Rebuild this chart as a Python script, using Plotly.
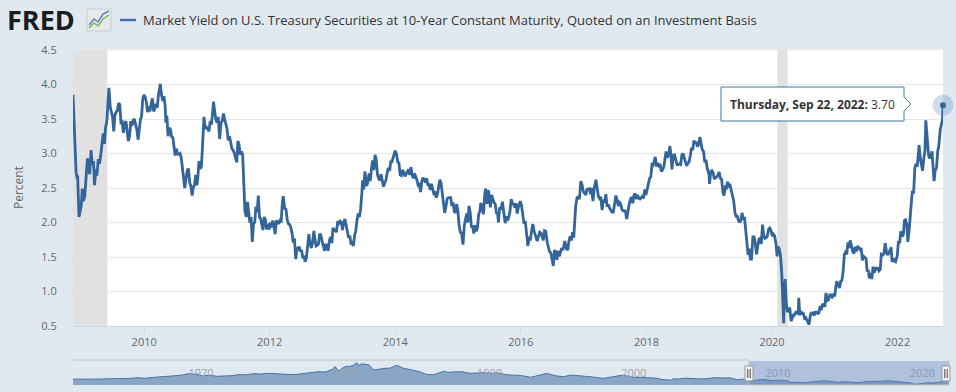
import plotly.graph_objects as go

# ---------------- data ----------------
y2008 = [("11-13",3.85),("11-18",3.55),("11-21",3.21),("11-26",3.00),("12-01",2.73),("12-05",2.67),
         ("12-10",2.68),("12-18",2.08),("12-24",2.17),("12-31",2.25)]
y2009 = [("01-06",2.49),("01-12",2.31),("01-20",2.37),("01-28",2.67),("02-05",2.93),("02-10",2.83),("02-18",2.70),
         ("02-26",3.05),("03-05",2.84),("03-12",2.89),("03-18",2.54),("03-26",2.77),("04-01",2.68),("04-09",2.92),
         ("04-16",2.85),("04-24",2.99),("05-01",3.16),("05-08",3.29),("05-15",3.14),("05-21",3.37),("05-29",3.47),
         ("06-04",3.71),("06-10",3.95),("06-18",3.67),("06-25",3.60),("07-01",3.53),("07-08",3.32),("07-15",3.56),
         ("07-22",3.60),("07-29",3.62),("08-05",3.73),("08-12",3.71),("08-19",3.45),("08-26",3.46),("09-02",3.30),
         ("09-10",3.43),("09-17",3.47),("09-25",3.33),("10-01",3.18),("10-08",3.25),("10-15",3.47),("10-22",3.40),
         ("10-29",3.48),("11-05",3.50),("11-12",3.44),("11-19",3.35),("11-27",3.20),("12-03",3.39),("12-10",3.49),
         ("12-17",3.54),("12-24",3.80),("12-31",3.85)]
y2010 = [("01-07",3.82),("01-14",3.74),("01-21",3.60),("01-28",3.68),("02-04",3.61),("02-11",3.73),("02-18",3.80),
         ("02-25",3.61),("03-04",3.65),("03-11",3.72),("03-18",3.66),("03-25",3.85),("04-05",4.01),("04-12",3.85),
         ("04-19",3.76),("04-26",3.83),("05-03",3.69),("05-07",3.45),("05-13",3.55),("05-20",3.25),("05-27",3.37),
         ("06-03",3.35),("06-10",3.24),("06-17",3.23),("06-24",3.12),("06-30",2.97),("07-08",3.07),("07-15",2.99),
         ("07-22",2.99),("07-29",3.00),("08-05",2.93),("08-12",2.74),("08-19",2.62),("08-25",2.50),("09-01",2.63),
         ("09-09",2.76),("09-16",2.78),("09-23",2.57),("09-30",2.53),("10-07",2.39),("10-14",2.51),("10-21",2.54),
         ("10-28",2.69),("11-04",2.54),("11-10",2.68),("11-16",2.89),("11-23",2.78),("11-30",2.81),("12-07",3.14),
         ("12-15",3.53),("12-22",3.36),("12-30",3.38)]
y2011 = [("01-06",3.36),("01-13",3.32),("01-20",3.47),("01-27",3.42),("02-03",3.58),("02-08",3.75),("02-15",3.62),
         ("02-22",3.49),("03-01",3.45),("03-08",3.53),("03-16",3.21),("03-24",3.44),("03-31",3.47),("04-07",3.58),
         ("04-14",3.50),("04-21",3.40),("04-28",3.36),("05-05",3.19),("05-12",3.25),("05-19",3.17),("05-26",3.07),
         ("06-02",3.05),("06-09",3.01),("06-16",2.94),("06-24",2.87),("06-30",3.18),("07-07",3.13),("07-14",2.98),
         ("07-21",3.03),("07-28",2.98),("08-04",2.47),("08-10",2.17),("08-18",2.08),("08-25",2.30),("09-01",2.15),
         ("09-08",2.00),("09-15",2.08),("09-22",1.72),("09-29",1.98),("10-06",2.00),("10-13",2.23),("10-20",2.15),
         ("10-27",2.39),("11-03",2.08),("11-10",2.05),("11-17",1.98),("11-23",1.89),("11-30",2.08),("12-07",2.04),
         ("12-14",1.90),("12-21",1.98),("12-29",1.90)]
y2012 = [("01-05",2.00),("01-12",1.93),("01-19",2.03),("01-26",1.95),("02-02",1.83),("02-09",2.03),("02-16",2.00),
         ("02-23",1.98),("03-01",2.03),("03-08",2.02),("03-15",2.29),("03-20",2.38),("03-28",2.21),("04-05",2.19),
         ("04-12",2.04),("04-19",1.98),("04-26",1.97),("05-03",1.93),("05-10",1.85),("05-17",1.71),("05-24",1.77),
         ("06-01",1.47),("06-07",1.64),("06-14",1.62),("06-21",1.65),("06-28",1.58),("07-05",1.60),("07-12",1.48),
         ("07-19",1.52),("07-25",1.43),("08-02",1.49),("08-09",1.69),("08-16",1.83),("08-23",1.69),("08-30",1.63),
         ("09-06",1.70),("09-14",1.88),("09-20",1.77),("09-27",1.66),("10-04",1.67),("10-11",1.69),("10-18",1.84),
         ("10-25",1.81),("11-01",1.73),("11-08",1.64),("11-15",1.59),("11-23",1.69),("11-30",1.62),("12-06",1.59),
         ("12-13",1.73),("12-20",1.79),("12-28",1.70)]
y2013 = [("01-03",1.92),("01-10",1.90),("01-17",1.88),("01-24",1.86),("01-31",2.02),("02-07",1.99),("02-14",2.02),
         ("02-21",2.00),("02-28",1.89),("03-07",2.01),("03-14",2.05),("03-21",1.95),("03-28",1.87),("04-04",1.78),
         ("04-11",1.81),("04-18",1.70),("04-25",1.71),("05-02",1.66),("05-09",1.81),("05-16",1.88),("05-23",2.03),
         ("05-30",2.13),("06-06",2.08),("06-13",2.19),("06-20",2.42),("06-25",2.61),("07-02",2.48),("07-08",2.74),
         ("07-18",2.53),("07-25",2.58),("08-01",2.71),("08-08",2.60),("08-15",2.77),("08-22",2.90),("08-29",2.76),
         ("09-05",2.98),("09-12",2.91),("09-19",2.70),("09-26",2.64),("10-03",2.61),("10-10",2.70),("10-17",2.61),
         ("10-24",2.52),("10-31",2.57),("11-07",2.61),("11-14",2.71),("11-21",2.79),("11-29",2.75),("12-05",2.88),
         ("12-12",2.88),("12-19",2.94),("12-26",3.01),("12-31",3.04)]
y2014 = [("01-08",2.99),("01-15",2.88),("01-22",2.86),("01-29",2.69),("02-05",2.68),("02-12",2.76),("02-19",2.73),
         ("02-26",2.67),("03-05",2.70),("03-12",2.73),("03-19",2.77),("03-26",2.69),("04-02",2.80),("04-09",2.69),
         ("04-16",2.64),("04-23",2.71),("04-30",2.67),("05-07",2.61),("05-14",2.54),("05-21",2.55),("05-28",2.44),
         ("06-04",2.60),("06-11",2.65),("06-18",2.61),("06-25",2.58),("07-02",2.64),("07-09",2.55),("07-16",2.55),
         ("07-23",2.47),("07-30",2.56),("08-06",2.47),("08-13",2.42),("08-20",2.43),("08-27",2.36),("09-03",2.41),
         ("09-10",2.54),("09-17",2.62),("09-24",2.57),("10-01",2.42),("10-08",2.34),("10-15",2.14),("10-22",2.22),
         ("10-29",2.34),("11-05",2.36),("11-12",2.36),("11-19",2.36),("11-26",2.24),("12-03",2.29),("12-10",2.16),
         ("12-17",2.14),("12-24",2.27),("12-31",2.17)]
y2015 = [("01-07",1.96),("01-14",1.86),("01-21",1.85),("01-30",1.68),("02-06",1.95),("02-13",2.02),("02-20",2.13),
         ("02-27",2.00),("03-06",2.24),("03-13",2.13),("03-20",1.93),("03-27",1.95),("04-02",1.84),("04-10",1.96),
         ("04-17",1.87),("04-24",1.93),("05-01",2.12),("05-08",2.16),("05-13",2.28),("05-20",2.25),("05-29",2.12),
         ("06-05",2.40),("06-10",2.49),("06-19",2.27),("06-26",2.47),("07-02",2.38),("07-08",2.22),("07-15",2.40),
         ("07-22",2.34),("07-29",2.29),("08-05",2.27),("08-12",2.14),("08-19",2.13),("08-24",2.00),("08-31",2.22),
         ("09-08",2.19),("09-16",2.30),("09-23",2.15),("09-30",2.06),("10-02",1.99),("10-09",2.09),("10-16",2.03),
         ("10-23",2.08),("10-30",2.16),("11-06",2.34),("11-13",2.28),("11-20",2.26),("11-27",2.22),("12-04",2.28),
         ("12-11",2.13),("12-18",2.22),("12-29",2.31)]
y2016 = [("01-05",2.25),("01-12",2.10),("01-20",1.98),("01-27",2.02),("02-03",1.88),("02-11",1.66),("02-18",1.77),
         ("02-26",1.76),("03-04",1.88),("03-11",1.98),("03-18",1.88),("03-28",1.80),("04-05",1.73),("04-12",1.79),
         ("04-20",1.86),("04-27",1.85),("05-04",1.79),("05-11",1.74),("05-18",1.88),("05-25",1.87),("06-03",1.71),
         ("06-10",1.64),("06-16",1.58),("06-24",1.56),("07-01",1.46),("07-08",1.37),("07-15",1.60),("07-22",1.57),
         ("07-29",1.46),("08-05",1.59),("08-12",1.51),("08-19",1.58),("08-26",1.63),("09-02",1.60),("09-09",1.67),
         ("09-13",1.73),("09-23",1.62),("09-30",1.60),("10-07",1.73),("10-14",1.80),("10-21",1.74),("10-28",1.86),
         ("11-04",1.78),("11-09",2.07),("11-15",2.23),("11-23",2.36),("11-30",2.37),("12-07",2.34),("12-15",2.60),
         ("12-22",2.55),("12-30",2.45)]
y2017 = [("01-06",2.42),("01-13",2.40),("01-20",2.48),("01-27",2.49),("02-03",2.49),("02-10",2.41),("02-15",2.50),
         ("02-24",2.31),("03-03",2.49),("03-13",2.62),("03-20",2.47),("03-27",2.38),("04-03",2.35),("04-10",2.37),
         ("04-18",2.18),("04-25",2.33),("05-02",2.29),("05-10",2.41),("05-17",2.23),("05-24",2.26),("05-31",2.21),
         ("06-07",2.18),("06-14",2.15),("06-22",2.15),("06-30",2.31),("07-07",2.39),("07-14",2.33),("07-21",2.24),
         ("07-28",2.29),("08-04",2.27),("08-11",2.19),("08-18",2.17),("08-25",2.17),("09-01",2.16),("09-08",2.05),
         ("09-15",2.20),("09-22",2.26),("09-29",2.33),("10-06",2.37),("10-13",2.28),("10-20",2.39),("10-27",2.42),
         ("11-03",2.34),("11-10",2.40),("11-17",2.35),("11-24",2.34),("12-01",2.37),("12-08",2.38),("12-15",2.35),
         ("12-22",2.48),("12-29",2.40)]
y2018 = [("01-05",2.47),("01-12",2.55),("01-19",2.64),("01-26",2.66),("02-02",2.84),("02-09",2.83),("02-15",2.91),
         ("02-21",2.95),("03-01",2.81),("03-08",2.86),("03-15",2.82),("03-22",2.83),("03-29",2.74),("04-06",2.77),
         ("04-13",2.82),("04-20",2.96),("04-25",3.03),("05-03",2.94),("05-10",2.97),("05-17",3.11),("05-24",2.98),
         ("05-29",2.77),("06-06",2.97),("06-13",2.98),("06-21",2.90),("06-28",2.84),("07-05",2.84),("07-12",2.85),
         ("07-19",2.84),("07-26",2.98),("08-01",3.00),("08-09",2.93),("08-16",2.87),("08-23",2.82),("08-30",2.86),
         ("09-06",2.88),("09-13",2.97),("09-20",3.08),("09-27",3.05),("10-04",3.19),("10-11",3.14),("10-18",3.17),
         ("10-25",3.10),("11-01",3.14),("11-08",3.24),("11-15",3.11),("11-21",3.06),("11-29",3.03),("12-06",2.87),
         ("12-13",2.91),("12-20",2.79),("12-31",2.69)]
y2019 = [("01-03",2.56),("01-10",2.74),("01-17",2.75),("01-24",2.72),("01-31",2.63),("02-07",2.65),("02-14",2.66),
         ("02-21",2.69),("02-28",2.73),("03-07",2.64),("03-14",2.63),("03-22",2.44),("03-28",2.39),("04-04",2.51),
         ("04-11",2.50),("04-17",2.59),("04-25",2.53),("05-02",2.54),("05-09",2.45),("05-16",2.40),("05-23",2.32),
         ("05-31",2.14),("06-07",2.09),("06-14",2.09),("06-20",2.03),("06-28",2.00),("07-05",2.04),("07-11",2.14),
         ("07-18",2.04),("07-25",2.08),("08-01",1.90),("08-07",1.71),("08-15",1.53),("08-22",1.62),("08-28",1.47),
         ("09-04",1.47),("09-12",1.79),("09-19",1.79),("09-26",1.70),("10-03",1.54),("10-10",1.67),("10-17",1.76),
         ("10-24",1.77),("10-31",1.69),("11-07",1.97),("11-14",1.82),("11-21",1.77),("11-29",1.78),("12-05",1.80),
         ("12-12",1.90),("12-19",1.92),("12-27",1.88)]
y2020 = [("01-03",1.80),("01-10",1.83),("01-16",1.81),("01-24",1.70),("01-31",1.51),("02-06",1.65),("02-13",1.61),
         ("02-20",1.52),("02-27",1.26),("03-03",1.02),("03-09",0.54),("03-13",0.98),("03-18",1.18),("03-24",0.84),
         ("03-31",0.70),("04-07",0.75),("04-14",0.75),("04-21",0.57),("04-28",0.61),("05-05",0.66),("05-12",0.66),
         ("05-19",0.70),("05-26",0.69),("06-02",0.68),("06-05",0.91),("06-11",0.66),("06-18",0.71),("06-25",0.68),
         ("07-02",0.68),("07-09",0.61),("07-16",0.62),("07-23",0.59),("07-30",0.55),("08-04",0.52),("08-12",0.67),
         ("08-19",0.69),("08-26",0.69),("09-02",0.65),("09-09",0.70),("09-16",0.70),("09-23",0.68),("09-30",0.69),
         ("10-07",0.79),("10-14",0.73),("10-21",0.82),("10-28",0.79),("11-04",0.78),("11-10",0.98),("11-18",0.87),
         ("11-25",0.88),("12-02",0.95),("12-09",0.95),("12-16",0.92),("12-23",0.95),("12-31",0.93)]
y2021 = [("01-07",1.08),("01-12",1.15),("01-20",1.10),("01-28",1.05),("02-04",1.15),("02-11",1.16),("02-18",1.29),
         ("02-25",1.54),("03-04",1.57),("03-11",1.54),("03-18",1.71),("03-25",1.63),("03-31",1.74),("04-08",1.62),
         ("04-15",1.58),("04-22",1.55),("04-29",1.65),("05-06",1.58),("05-13",1.66),("05-20",1.63),("05-27",1.61),
         ("06-03",1.63),("06-10",1.45),("06-17",1.51),("06-24",1.49),("07-01",1.48),("07-08",1.29),("07-15",1.31),
         ("07-20",1.19),("07-29",1.27),("08-04",1.18),("08-11",1.36),("08-18",1.27),("08-25",1.35),("09-01",1.31),
         ("09-08",1.35),("09-15",1.30),("09-22",1.32),("09-28",1.54),("10-06",1.53),("10-13",1.55),("10-21",1.70),
         ("10-28",1.58),("11-04",1.53),("11-10",1.55),("11-18",1.59),("11-24",1.64),("11-30",1.43),("12-07",1.48),
         ("12-14",1.44),("12-20",1.43),("12-30",1.52)]
y2022 = [("01-06",1.73),("01-13",1.70),("01-19",1.87),("01-27",1.80),("02-03",1.82),("02-10",2.03),("02-16",2.04),
         ("02-24",1.96),("03-01",1.72),("03-08",1.86),("03-16",2.19),("03-23",2.32),("03-28",2.46),("04-04",2.42),
         ("04-11",2.79),("04-18",2.85),("04-25",2.81),("05-02",2.99),("05-06",3.12),("05-13",2.93),("05-19",2.84),
         ("05-26",2.75),("06-02",2.92),("06-09",3.04),("06-14",3.48),("06-22",3.16),("06-30",2.98),("07-06",2.93),
         ("07-13",2.96),("07-20",3.03),("07-27",2.78),("08-01",2.60),("08-08",2.76),("08-15",2.79),("08-22",3.03),
         ("08-29",3.12),("09-06",3.35),("09-13",3.42),("09-19",3.49),("09-22",3.70)]

nav_dates = ["1962-01-02","1962-07-01","1963-01-01","1963-07-01","1964-01-01","1964-07-01","1965-01-01","1965-07-01",
             "1966-01-01","1966-07-01","1967-01-01","1967-07-01","1968-01-01","1968-07-01","1969-01-01","1969-07-01",
             "1970-01-01","1970-07-01","1971-01-01","1971-07-01","1972-01-01","1972-07-01","1973-01-01","1973-07-01",
             "1974-01-01","1974-07-01","1975-01-01","1975-07-01","1976-01-01","1976-07-01","1977-01-01","1977-07-01",
             "1978-01-01","1978-07-01","1979-01-01","1979-07-01","1980-01-01","1980-03-01","1980-06-01","1980-09-01",
             "1980-12-01","1981-03-01","1981-06-01","1981-09-01","1981-11-01","1982-01-01","1982-07-01","1982-11-01",
             "1983-01-01","1983-07-01","1984-01-01","1984-06-01","1984-12-01","1985-07-01","1986-01-01","1986-07-01",
             "1987-01-01","1987-10-01","1988-01-01","1988-07-01","1989-01-01","1989-07-01","1990-01-01","1990-07-01",
             "1991-01-01","1991-07-01","1992-01-01","1992-07-01","1993-01-01","1993-10-01","1994-07-01","1994-11-01",
             "1995-07-01","1996-01-01","1996-07-01","1997-01-01","1997-07-01","1998-01-01","1998-10-01","1999-07-01",
             "2000-01-01","2000-07-01","2001-01-01","2001-07-01","2002-01-01","2002-07-01","2002-10-01","2003-06-01",
             "2003-09-01","2004-01-01","2004-06-01","2005-01-01","2005-07-01","2006-01-01","2006-07-01","2007-01-01",
             "2007-07-01","2008-01-01","2008-07-01","2008-12-01","2009-07-01","2010-01-01","2010-07-01","2011-01-01",
             "2011-07-01","2011-10-01","2012-07-01","2013-01-01","2013-07-01","2014-01-01","2014-07-01","2015-01-01",
             "2015-07-01","2016-01-01","2016-07-01","2017-01-01","2017-07-01","2018-01-01","2018-07-01","2019-01-01",
             "2019-07-01","2019-09-01","2020-01-01","2020-04-01","2020-07-01","2021-01-01","2021-04-01","2021-07-01",
             "2022-01-01","2022-06-01","2022-09-22"]
nav_values = [4.08,3.99,3.83,4.02,4.17,4.20,4.19,4.20,4.61,5.02,4.58,5.16,5.53,5.50,6.04,6.72,
              7.79,7.46,6.24,6.73,5.95,6.11,6.46,7.13,6.99,7.81,7.50,8.06,7.74,7.83,7.21,7.33,
              7.96,8.64,9.10,8.95,10.80,12.75,9.78,11.50,12.84,12.70,13.47,15.32,13.39,14.59,13.95,10.55,
              10.46,11.38,11.67,13.56,11.50,10.31,9.19,7.30,7.08,9.52,8.67,9.06,9.09,8.02,8.21,8.47,
              8.09,8.27,7.03,6.84,6.60,5.33,7.30,7.96,6.28,5.65,6.87,6.58,6.12,5.54,4.53,5.79,
              6.66,6.05,5.16,5.24,5.04,4.65,3.90,3.33,4.27,4.15,4.73,4.22,4.18,4.42,5.09,4.76,
              5.00,3.74,4.01,2.42,3.56,3.73,3.01,3.39,3.00,1.98,1.53,1.91,2.58,2.86,2.54,1.88,
              2.32,2.09,1.50,2.43,2.32,2.58,2.89,2.71,2.06,1.63,1.76,0.66,0.62,1.08,1.64,1.32,
              1.76,3.14,3.70]

recessions = [("2008-11-13", "2009-06-01"), ("2020-02-01", "2020-04-01")]
y_ticks = [0.5, 1.0, 1.5, 2.0, 2.5, 3.0, 3.5, 4.0, 4.5]
x_ticks = ["2010-01-01", "2012-01-01", "2014-01-01", "2016-01-01", "2018-01-01", "2020-01-01", "2022-01-01"]
x_labels = ["2010", "2012", "2014", "2016", "2018", "2020", "2022"]
nav_ticks = ["1970-01-01", "1980-01-01", "1990-01-01", "2000-01-01", "2010-01-01", "2020-01-01"]
nav_labels = ["1970", "1980", "1990", "2000", "2010", "2020"]
series_title = "Market Yield on U.S. Treasury Securities at 10-Year Constant Maturity, Quoted on an Investment Basis"
hover_label = "<b>Thursday, Sep 22, 2022:</b> 3.70"

years = [(2008, y2008), (2009, y2009), (2010, y2010), (2011, y2011), (2012, y2012), (2013, y2013), (2014, y2014),
         (2015, y2015), (2016, y2016), (2017, y2017), (2018, y2018), (2019, y2019), (2020, y2020), (2021, y2021),
         (2022, y2022)]
dates, values = [], []
for yr, obs in years:
    for md, v in obs:
        dates.append(f"{yr}-{md}")
        values.append(v)

# ---------------- layout geometry ----------------
W, H = 956, 392
ML, MR, MT, MB = 73, 7, 50, 7
PW, PH = W - ML - MR, H - MT - MB


def px(x):
    return (x - ML) / PW


def py(y):
    return (H - MB - y) / PH


LINE = "#34659a"
BG = "#e1e9f0"
FONT = "Open Sans"

fig = go.Figure()
fig.add_trace(go.Scatter(x=dates, y=values, mode="lines", line=dict(color=LINE, width=2.8),
                         xaxis="x", yaxis="y", hoverinfo="skip", showlegend=False))
# hover marker
fig.add_trace(go.Scatter(x=[dates[-1]], y=[values[-1]], mode="markers",
                         marker=dict(size=21, color="rgba(69,114,167,0.25)"), cliponaxis=False,
                         xaxis="x", yaxis="y", hoverinfo="skip", showlegend=False))
fig.add_trace(go.Scatter(x=[dates[-1]], y=[values[-1]], mode="markers",
                         marker=dict(size=6, color=LINE), cliponaxis=False,
                         xaxis="x", yaxis="y", hoverinfo="skip", showlegend=False))
# navigator
fig.add_trace(go.Scatter(x=nav_dates, y=nav_values, mode="lines", fill="tozeroy",
                         line=dict(color="#4572a7", width=1), fillcolor="rgba(69,114,167,0.56)",
                         xaxis="x2", yaxis="y2", hoverinfo="skip", showlegend=False))

shapes = []
# navigator background = page background
shapes.append(dict(type="rect", xref="paper", yref="paper", x0=0, x1=1, y0=0, y1=py(360),
                   fillcolor=BG, line=dict(width=0), layer="below"))
for a, b in recessions:
    shapes.append(dict(type="rect", xref="x", yref="paper", x0=a, x1=b, y0=py(326), y1=1,
                       fillcolor="#e1e1e1", line=dict(width=0), layer="below"))
# navigator selection mask
shapes.append(dict(type="rect", xref="paper", yref="paper", x0=px(749), x1=px(949),
                   y0=0, y1=py(361), fillcolor="rgba(102,133,194,0.40)", line=dict(width=0)))
# navigator outline
shapes.append(dict(type="path", xref="paper", yref="paper",
                   path=f"M {px(73)},{py(360)} L {px(749)},{py(360)} L {px(749)},{py(385)} "
                        f"L {px(949)},{py(385)} L {px(949)},{py(360)}",
                   line=dict(color="#c2c2c2", width=1)))
# handles
for hx in (749, 946):
    shapes.append(dict(type="rect", xref="paper", yref="paper", x0=px(hx - 4), x1=px(hx + 4),
                       y0=py(381), y1=py(366), fillcolor="#f2f2f2", line=dict(color="#999999", width=1)))
    for dx in (-1.2, 1.2):
        shapes.append(dict(type="line", xref="paper", yref="paper", x0=px(hx + dx), x1=px(hx + dx),
                           y0=py(378), y1=py(369), line=dict(color="#444444", width=1)))
# legend swatch
shapes.append(dict(type="line", xref="paper", yref="paper", x0=px(120), x1=px(136), y0=py(20), y1=py(20),
                   line=dict(color="#4572a7", width=2.5)))
# FRED icon
shapes.append(dict(type="rect", xref="paper", yref="paper", x0=px(87), x1=px(111), y0=py(31), y1=py(9),
                   fillcolor="#e6e8ea", line=dict(color="#c9cdd1", width=1)))
shapes.append(dict(type="path", xref="paper", yref="paper",
                   path=f"M {px(89)},{py(28)} L {px(94)},{py(23)} L {px(98)},{py(26)} L {px(103)},{py(19)} L {px(109)},{py(15)}",
                   line=dict(color="#7ab55c", width=1.5)))
shapes.append(dict(type="path", xref="paper", yref="paper",
                   path=f"M {px(89)},{py(25)} L {px(94)},{py(19)} L {px(98)},{py(22)} L {px(103)},{py(14)} L {px(109)},{py(11)}",
                   line=dict(color="#5b86b8", width=1.5)))
# tooltip box with pointer
tl, tr, tt, tb, tip = 721, 904, 87, 121, 911
shapes.append(dict(type="path", xref="paper", yref="paper",
                   path=(f"M {px(tl)},{py(tt)} L {px(tr)},{py(tt)} "
                         f"L {px(tr)},{py(97)} L {px(tip)},{py(104)} L {px(tr)},{py(111)} "
                         f"L {px(tr)},{py(tb)} L {px(tl)},{py(tb)} Z"),
                   fillcolor="rgba(255,255,255,0.96)", line=dict(color="#4572a7", width=1)))

annotations = [
    dict(text="<b>FRED</b>", x=px(5), y=py(20), xref="paper", yref="paper", xanchor="left", yanchor="middle",
         showarrow=False, font=dict(family=FONT, size=27, color="#1c1c1c")),
    dict(text=series_title, x=px(141), y=py(20), xref="paper", yref="paper", xanchor="left", yanchor="middle",
         showarrow=False, font=dict(family=FONT, size=13, color="#333333")),
    dict(text="Percent", x=px(18), y=py(188), xref="paper", yref="paper", xanchor="center", yanchor="middle",
         textangle=-90, showarrow=False, font=dict(family=FONT, size=12, color="#666666")),
    dict(text=hover_label, x=px(812), y=py(104), xref="paper", yref="paper", xanchor="center", yanchor="middle",
         showarrow=False, font=dict(family=FONT, size=12, color="#333333")),
]

fig.update_layout(
    width=W, height=H, margin=dict(l=ML, r=MR, t=MT, b=MB, autoexpand=False),
    paper_bgcolor=BG, plot_bgcolor="#ffffff",
    font=dict(family=FONT, size=11, color="#666666"),
    showlegend=False, hovermode=False,
    xaxis=dict(domain=[0, (943 - ML) / PW], anchor="y", type="date", range=["2008-11-13", "2022-09-22"],
               tickvals=x_ticks, ticktext=x_labels, showgrid=False, showline=True, linecolor="#ccd6eb",
               ticks="outside", ticklen=6, tickcolor="#ccd6eb", tickfont=dict(size=11, color="#666666"),
               zeroline=False, fixedrange=True),
    yaxis=dict(domain=[py(326), 1], anchor="x", range=[0.5, 4.5], tickvals=y_ticks, tickformat=".1f",
               showgrid=True, gridcolor="#e6e6e6", gridwidth=1, zeroline=False, showline=False,
               ticks="outside", ticklen=13, tickcolor="rgba(0,0,0,0)", tickfont=dict(size=11, color="#666666"),
               fixedrange=True),
    xaxis2=dict(domain=[0, 1], anchor="y2", type="date", range=["1962-01-02", "2022-09-22"],
                tickvals=nav_ticks, ticktext=nav_labels, ticklabelposition="inside right",
                showgrid=False, showline=False, ticks="", zeroline=False,
                tickfont=dict(size=11, color="#9aa3ab"), fixedrange=True),
    yaxis2=dict(domain=[0, py(360)], anchor="x2", range=[0, 17.2], showticklabels=False, showgrid=False,
                zeroline=False, showline=False, fixedrange=True),
    shapes=shapes, annotations=annotations,
)

fig.write_html("out.html", config={"displayModeBar": False},
               post_script="document.body.style.margin='0';document.body.style.background='#e1e9f0';")
